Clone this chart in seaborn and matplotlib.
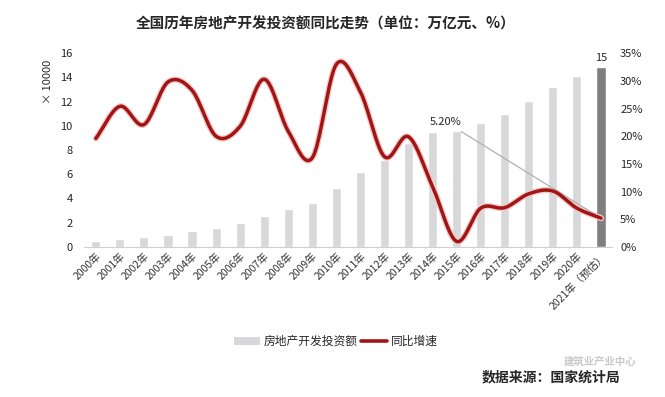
import numpy as np
import pandas as pd
import matplotlib
matplotlib.use("Agg")
import matplotlib.pyplot as plt
from matplotlib.patches import Patch
from matplotlib.lines import Line2D
import seaborn as sns

sns.set_style("white")
plt.rcParams["font.family"] = ["Noto Sans CJK SC", "DejaVu Sans"]

# -------------------------------------------------
# data (万亿元 / %)
# -------------------------------------------------
years = ["2000年", "2001年", "2002年", "2003年", "2004年", "2005年", "2006年",
         "2007年", "2008年", "2009年", "2010年", "2011年", "2012年", "2013年",
         "2014年", "2015年", "2016年", "2017年", "2018年", "2019年", "2020年",
         "2021年（预估）"]
invest = [0.50, 0.63, 0.78, 1.02, 1.32, 1.59, 1.94, 2.53, 3.12, 3.62, 4.83,
          6.18, 7.18, 8.60, 9.50, 9.60, 10.26, 10.98, 12.03, 13.22, 14.14, 14.9]
growth = [19.6, 25.4, 22.1, 29.8, 28.3, 20.0, 21.8, 30.3, 20.9, 16.1, 33.0,
          28.0, 16.3, 19.9, 10.9, 1.0, 7.0, 7.1, 9.6, 10.1, 7.0, 5.2]

df = pd.DataFrame({"year": years, "invest": invest, "growth": growth})

bar_colors = ["#d8d7d9"] * (len(years) - 1) + ["#7f7f7f"]
red = "#a11515"


def smooth(x, y, n=20):
    # catmull-rom style smoothing like excel's smoothed line
    x = np.asarray(x, float)
    y = np.asarray(y, float)
    px = np.concatenate([[2 * x[0] - x[1]], x, [2 * x[-1] - x[-2]]])
    py = np.concatenate([[2 * y[0] - y[1]], y, [2 * y[-1] - y[-2]]])
    xs, ys = [], []
    t = np.linspace(0, 1, n, endpoint=False)
    for i in range(1, len(px) - 2):
        for p, out in ((px, xs), (py, ys)):
            p0, p1, p2, p3 = p[i - 1], p[i], p[i + 1], p[i + 2]
            out.extend(0.5 * (2 * p1 + (-p0 + p2) * t
                              + (2 * p0 - 5 * p1 + 4 * p2 - p3) * t ** 2
                              + (-p0 + 3 * p1 - 3 * p2 + p3) * t ** 3))
    xs.append(x[-1])
    ys.append(y[-1])
    return np.array(xs), np.array(ys)


fig = plt.figure(figsize=(6.65, 3.97), dpi=100)
ax = fig.add_axes([0.126, 0.378, 0.794, 0.488])

sns.barplot(data=df, x="year", y="invest", hue="year", palette=bar_colors,
            legend=False, width=0.38, ax=ax)
ax.set_ylim(0, 16)
ax.set_yticks(range(0, 17, 2))
ax.set_xlim(-0.5, 21.45)
ax.set_xlabel("")
ax.set_ylabel("")
ax.tick_params(axis="y", labelsize=8, length=0, pad=8)
ax.tick_params(axis="x", labelsize=7.5, length=0, pad=3, colors="#333333")
plt.setp(ax.get_xticklabels(), rotation=45, ha="right", rotation_mode="anchor")
for s in ["top", "left", "right"]:
    ax.spines[s].set_visible(False)
ax.spines["bottom"].set_color("#d0d0d0")

ax.text(len(years) - 1, invest[-1] + 0.3, "15", ha="center", va="bottom", fontsize=8)
fig.text(0.072, 0.793, "× 10000", rotation=90, ha="center", va="center", fontsize=8)

# growth line on the right axis
ax2 = ax.twinx()
sx, sy = smooth(range(len(growth)), growth)
ax2.plot(sx, sy, color="#f3c9c9", lw=4.4, solid_capstyle="round", zorder=3)
ax2.plot(sx, sy, color=red, lw=2.5, solid_capstyle="round", zorder=4)
ax2.set_ylim(0, 35)
ax2.set_yticks(range(0, 36, 5))
ax2.set_yticklabels([f"{v}%" for v in range(0, 36, 5)])
ax2.tick_params(axis="y", labelsize=8, length=0, pad=6)
for s in ["top", "left", "right", "bottom"]:
    ax2.spines[s].set_visible(False)

ax2.annotate("5.20%", xy=(len(growth) - 1, growth[-1]), xytext=(15.2, 22.6),
             fontsize=8, ha="right", va="center",
             arrowprops=dict(arrowstyle="-", color="#b0b0b0", lw=0.9,
                             shrinkA=2, shrinkB=0))

fig.suptitle("全国历年房地产开发投资额同比走势（单位：万亿元、%）",
             x=0.49, y=0.962, fontsize=10.5, fontweight="bold")

handles = [Patch(facecolor="#d8d7d9", edgecolor="none"),
           Line2D([0], [0], color=red, lw=2.6)]
fig.legend(handles, ["房地产开发投资额", "同比增速"], loc="center",
           bbox_to_anchor=(0.505, 0.14), ncol=2, frameon=False, fontsize=8.5,
           handlelength=2.2, columnspacing=0.3, handletextpad=0.3)

fig.text(0.903, 0.088, "建筑业产业中心", fontsize=7.5, color="#c8c8c8",
         ha="center", va="center", fontweight="bold")
fig.text(0.933, 0.05, "数据来源：国家统计局", fontsize=10, fontweight="bold",
         ha="right", va="center")

fig.savefig("out.png", dpi=100, facecolor="white")
